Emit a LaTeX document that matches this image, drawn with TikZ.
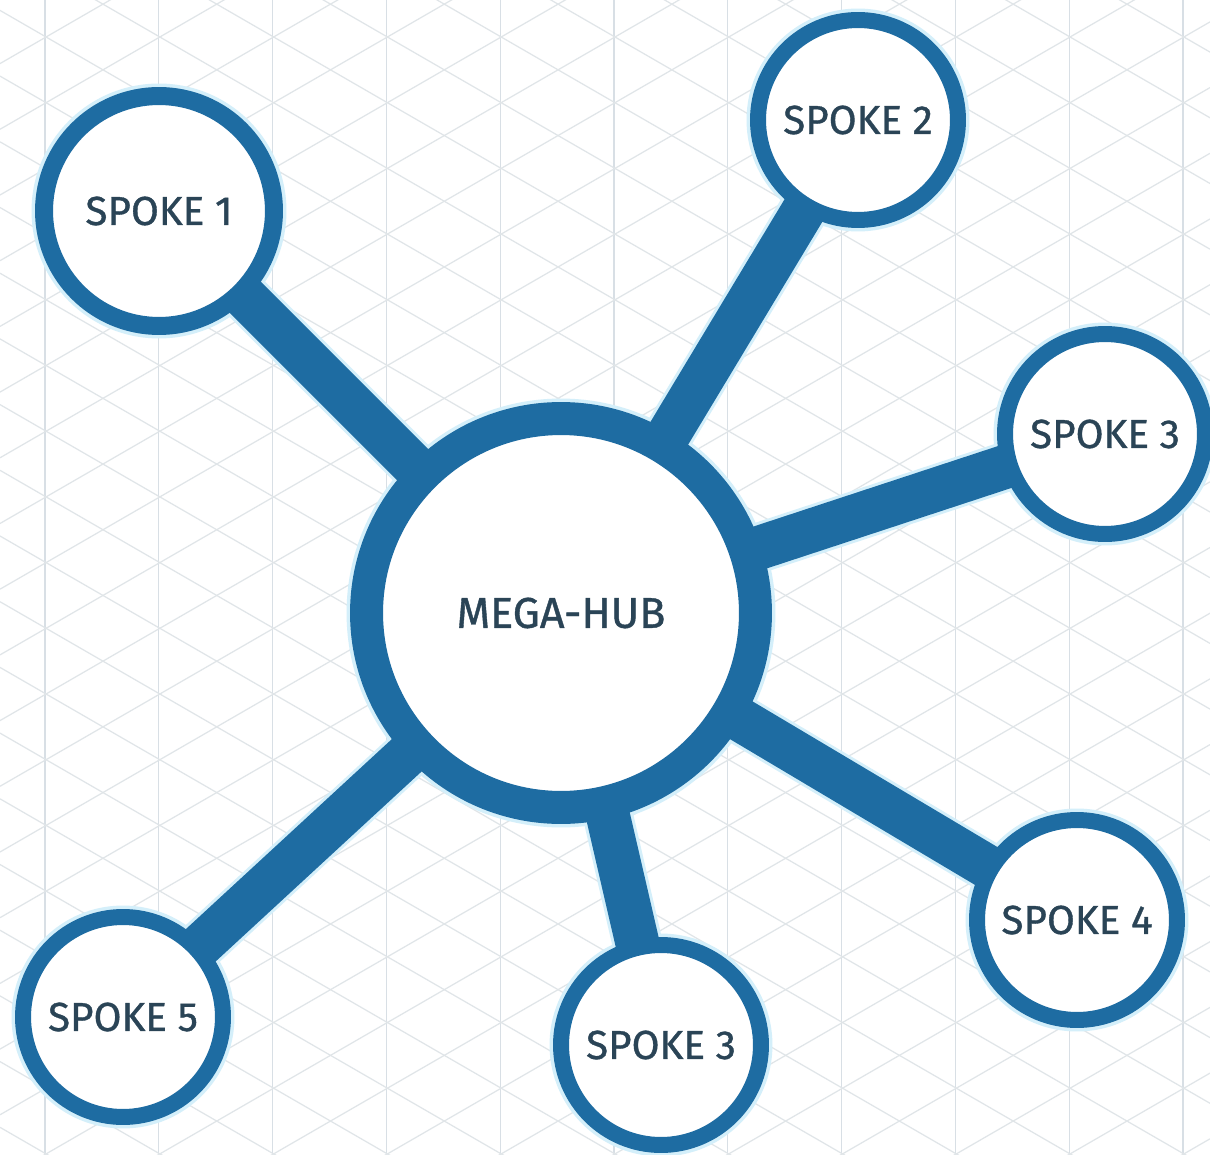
\documentclass[tikz,border=0pt]{standalone}
\usepackage{fontspec}
\newfontfamily\labfont{Fira Sans}[FakeBold=0.9]
\definecolor{hubblue}{HTML}{1E6CA2}
\definecolor{txt}{HTML}{2A4456}
\definecolor{gridc}{HTML}{E0E5E8}
\definecolor{gridv}{HTML}{D8DFE5}
\definecolor{glow}{HTML}{D4EFFA}
\pgfdeclarelayer{gridlayer}
\pgfdeclarelayer{glowlayer}
\pgfdeclarelayer{barlayer}
\pgfsetlayers{gridlayer,glowlayer,barlayer,main}
\begin{document}
\begin{tikzpicture}[x=0.02cm,y=-0.02cm,
  lab/.style={text=txt,font={\labfont\fontsize{23pt}{27pt}\selectfont}},
  hubnode/.style={circle,draw=hubblue,fill=white,line width=0.66cm,minimum size=7.78cm,inner sep=0pt,lab,font={\labfont\fontsize{24.5pt}{28pt}\selectfont}},
  spokenode/.style={circle,draw=hubblue,fill=white,line width=0.32cm,minimum size=4.0cm,inner sep=0pt,lab},
  bar/.style={draw=hubblue,line width=0.88cm},
  barglow/.style={draw=glow,line width=1.0cm},
  gridline/.style={draw=gridc,line width=0.7pt},
  gridvert/.style={draw=gridv,line width=0.7pt}]
\useasboundingbox (0,0) rectangle (1210,1155);

% nodes
\node[hubnode] (hub) at (561,613) {MEGA-HUB};
\node[spokenode,minimum size=4.6cm,line width=0.36cm] (s1) at (159,211) {SPOKE 1};
\node[spokenode] (s2) at (858,120) {SPOKE 2};
\node[spokenode] (s3) at (1105,434) {SPOKE 3};
\node[spokenode] (s4) at (1077,920) {SPOKE 4};
\node[spokenode] (s6) at (661,1045) {SPOKE 3};
\node[spokenode] (s5) at (123,1017) {SPOKE 5};

% connectors
\begin{pgfonlayer}{barlayer}
  \foreach \s in {s1,s2,s3,s4,s6,s5}
    \draw[bar] (hub.center) -- (\s.center);
\end{pgfonlayer}

% glow
\begin{pgfonlayer}{glowlayer}
  \foreach \s in {s1,s2,s3,s4,s6,s5}
    \draw[barglow] (hub.center) -- (\s.center);
  \fill[glow] (hub.center) circle[radius=4.29cm];
  \fill[glow] (s1.center) circle[radius=2.55cm];
  \foreach \s in {s2,s3,s4,s6,s5}
    \fill[glow] (\s.center) circle[radius=2.23cm];
\end{pgfonlayer}

% background grid
\begin{pgfonlayer}{gridlayer}
  \fill[white] (0,0) rectangle (1210,1155);
  \begin{scope}
    \clip (0,0) rectangle (1210,1155);
    \foreach \k in {0,...,10}
      \draw[gridvert] ({45+113.8*\k},0) -- ({45+113.8*\k},1155);
    \foreach \k in {-8,...,24} {
      \draw[gridline] (0,{37+65.7*\k-355.1}) -- (1210,{37+65.7*\k+343.6});
      \draw[gridline] (0,{37+65.7*\k+355.1}) -- (1210,{37+65.7*\k-343.6});
    }
  \end{scope}
\end{pgfonlayer}
\end{tikzpicture}
\end{document}
